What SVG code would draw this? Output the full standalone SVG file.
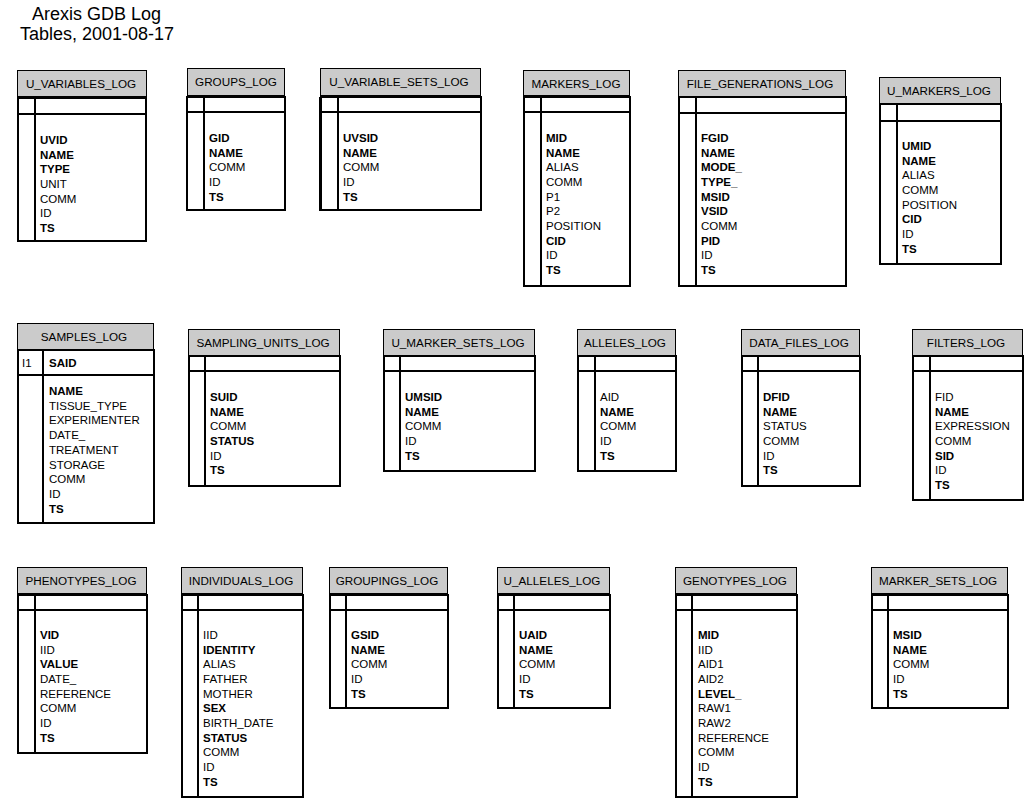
<svg xmlns="http://www.w3.org/2000/svg" width="1027" height="800" viewBox="0 0 1027 800">
<style>
text{font-family:"Liberation Sans",Arial,sans-serif;fill:#000}
.title{font-size:18px}
.hd{fill:#cbcbcb;stroke:#000;stroke-width:1}
.ht{font-size:11.7px;text-anchor:middle}
.bd{fill:#fff;stroke:#000;stroke-width:2}
.ln{stroke:#000;stroke-width:2;fill:none}
.f{font-size:11.5px}
.b{font-size:11.5px;font-weight:bold}
</style>
<rect width="1027" height="800" fill="#fff"/>
<g id="title">
<text class="title" x="32" y="20">Arexis GDB Log</text>
<text class="title" x="20" y="40">Tables, 2001-08-17</text>
</g>

<g id="U_VARIABLES_LOG">
<rect class="hd" x="17.5" y="70.5" width="129" height="26"/>
<text class="ht" x="81" y="88">U_VARIABLES_LOG</text>
<rect class="bd" x="18" y="98" width="128" height="143"/>
<path class="ln" d="M18 114H146M35 98V241"/>
<text class="b" x="40" y="144">UVID</text>
<text class="b" x="40" y="158.6">NAME</text>
<text class="b" x="40" y="173.3">TYPE</text>
<text class="f" x="40" y="188">UNIT</text>
<text class="f" x="40" y="202.6">COMM</text>
<text class="f" x="40" y="217.2">ID</text>
<text class="b" x="40" y="231.9">TS</text>
</g>

<g id="GROUPS_LOG">
<rect class="hd" x="187.5" y="68.5" width="97" height="27"/>
<text class="ht" x="236" y="86">GROUPS_LOG</text>
<rect class="bd" x="187" y="97" width="98" height="113"/>
<path class="ln" d="M187 112H285M204 97V210"/>
<text class="b" x="209" y="142">GID</text>
<text class="b" x="209" y="156.6">NAME</text>
<text class="f" x="209" y="171.3">COMM</text>
<text class="f" x="209" y="186">ID</text>
<text class="b" x="209" y="200.6">TS</text>
</g>

<g id="U_VARIABLE_SETS_LOG">
<rect class="hd" x="320.5" y="68.5" width="160" height="27"/>
<text class="ht" x="399" y="86">U_VARIABLE_SETS_LOG</text>
<rect class="bd" x="321" y="97" width="160" height="113"/>
<path class="ln" d="M321 112H481M338 97V210" />
<path d="M320.5 97V211" stroke="#000" stroke-width="3"/>
<text class="b" x="343" y="142">UVSID</text>
<text class="b" x="343" y="156.6">NAME</text>
<text class="f" x="343" y="171.3">COMM</text>
<text class="f" x="343" y="186">ID</text>
<text class="b" x="343" y="200.6">TS</text>
</g>

<g id="MARKERS_LOG">
<rect class="hd" x="523.5" y="70.5" width="106" height="25"/>
<text class="ht" x="576" y="88">MARKERS_LOG</text>
<rect class="bd" x="524" y="97" width="106" height="189"/>
<path class="ln" d="M524 112H630M541 97V286"/>
<text class="b" x="546" y="142">MID</text>
<text class="b" x="546" y="156.7">NAME</text>
<text class="f" x="546" y="171.3">ALIAS</text>
<text class="f" x="546" y="186">COMM</text>
<text class="f" x="546" y="200.6">P1</text>
<text class="f" x="546" y="215.3">P2</text>
<text class="f" x="546" y="230">POSITION</text>
<text class="b" x="546" y="244.6">CID</text>
<text class="f" x="546" y="259.3">ID</text>
<text class="b" x="546" y="274">TS</text>
</g>

<g id="FILE_GENERATIONS_LOG">
<rect class="hd" x="678.5" y="70.5" width="167" height="26"/>
<text class="ht" x="760" y="88">FILE_GENERATIONS_LOG</text>
<rect class="bd" x="679" y="97" width="167" height="189"/>
<path class="ln" d="M679 113H846M696 97V286"/>
<text class="b" x="701" y="142">FGID</text>
<text class="b" x="701" y="156.7">NAME</text>
<text class="b" x="701" y="171.3">MODE_</text>
<text class="b" x="701" y="186">TYPE_</text>
<text class="b" x="701" y="200.6">MSID</text>
<text class="b" x="701" y="215.3">VSID</text>
<text class="f" x="701" y="230">COMM</text>
<text class="b" x="701" y="244.6">PID</text>
<text class="f" x="701" y="259.3">ID</text>
<text class="b" x="701" y="274">TS</text>
</g>

<g id="U_MARKERS_LOG">
<rect class="hd" x="879.5" y="77.5" width="121" height="26"/>
<text class="ht" x="939" y="95">U_MARKERS_LOG</text>
<rect class="bd" x="880" y="104" width="121" height="160"/>
<path class="ln" d="M880 121H1001M897 104V264"/>
<text class="b" x="902" y="150">UMID</text>
<text class="b" x="902" y="164.7">NAME</text>
<text class="f" x="902" y="179.3">ALIAS</text>
<text class="f" x="902" y="194">COMM</text>
<text class="f" x="902" y="208.6">POSITION</text>
<text class="b" x="902" y="223.3">CID</text>
<text class="f" x="902" y="238">ID</text>
<text class="b" x="902" y="252.6">TS</text>
</g>

<g id="SAMPLES_LOG">
<rect class="hd" x="17.5" y="323.5" width="136" height="26"/>
<text class="ht" x="84" y="341">SAMPLES_LOG</text>
<rect class="bd" x="18" y="350" width="136" height="173"/>
<path class="ln" d="M18 375H154M43 350V523"/>
<text class="f" x="22" y="367">I1</text>
<text class="b" x="49" y="367">SAID</text>
<text class="b" x="49" y="395">NAME</text>
<text class="f" x="49" y="409.7">TISSUE_TYPE</text>
<text class="f" x="49" y="424.4">EXPERIMENTER</text>
<text class="f" x="49" y="439.1">DATE_</text>
<text class="f" x="49" y="453.8">TREATMENT</text>
<text class="f" x="49" y="468.5">STORAGE</text>
<text class="f" x="49" y="483.2">COMM</text>
<text class="f" x="49" y="497.9">ID</text>
<text class="b" x="49" y="512.6">TS</text>
</g>

<g id="SAMPLING_UNITS_LOG">
<rect class="hd" x="188.5" y="329.5" width="151" height="26"/>
<text class="ht" x="263" y="347">SAMPLING_UNITS_LOG</text>
<rect class="bd" x="189" y="356" width="151" height="130"/>
<path class="ln" d="M189 371H340M205 356V486"/>
<text class="b" x="210" y="401">SUID</text>
<text class="b" x="210" y="415.7">NAME</text>
<text class="f" x="210" y="430.3">COMM</text>
<text class="b" x="210" y="445">STATUS</text>
<text class="f" x="210" y="459.6">ID</text>
<text class="b" x="210" y="474.3">TS</text>
</g>

<g id="U_MARKER_SETS_LOG">
<rect class="hd" x="383.5" y="329.5" width="151" height="26"/>
<text class="ht" x="458" y="347">U_MARKER_SETS_LOG</text>
<rect class="bd" x="384" y="356" width="151" height="115"/>
<path class="ln" d="M384 371H535M400 356V471"/>
<text class="b" x="405" y="401">UMSID</text>
<text class="b" x="405" y="415.7">NAME</text>
<text class="f" x="405" y="430.3">COMM</text>
<text class="f" x="405" y="445">ID</text>
<text class="b" x="405" y="459.6">TS</text>
</g>

<g id="ALLELES_LOG">
<rect class="hd" x="577.5" y="329.5" width="98" height="26"/>
<text class="ht" x="625" y="347">ALLELES_LOG</text>
<rect class="bd" x="578" y="356" width="98" height="115"/>
<path class="ln" d="M578 371H676M595 356V471"/>
<text class="f" x="600" y="401">AID</text>
<text class="b" x="600" y="415.7">NAME</text>
<text class="f" x="600" y="430.3">COMM</text>
<text class="f" x="600" y="445">ID</text>
<text class="b" x="600" y="459.6">TS</text>
</g>

<g id="DATA_FILES_LOG">
<rect class="hd" x="741.5" y="329.5" width="118" height="26"/>
<text class="ht" x="799" y="347">DATA_FILES_LOG</text>
<rect class="bd" x="742" y="356" width="118" height="130"/>
<path class="ln" d="M742 371H860M758 356V486"/>
<text class="b" x="763" y="401">DFID</text>
<text class="b" x="763" y="415.7">NAME</text>
<text class="f" x="763" y="430.3">STATUS</text>
<text class="f" x="763" y="445">COMM</text>
<text class="f" x="763" y="459.6">ID</text>
<text class="b" x="763" y="474.3">TS</text>
</g>

<g id="FILTERS_LOG">
<rect class="hd" x="912.5" y="329.5" width="110" height="26"/>
<text class="ht" x="966" y="347">FILTERS_LOG</text>
<rect class="bd" x="913" y="356" width="110" height="144"/>
<path class="ln" d="M913 371H1023M930 356V500"/>
<text class="f" x="935" y="401">FID</text>
<text class="b" x="935" y="415.7">NAME</text>
<text class="f" x="935" y="430.3">EXPRESSION</text>
<text class="f" x="935" y="445">COMM</text>
<text class="b" x="935" y="459.6">SID</text>
<text class="f" x="935" y="474.3">ID</text>
<text class="b" x="935" y="489">TS</text>
</g>

<g id="PHENOTYPES_LOG">
<rect class="hd" x="17.5" y="567.5" width="129" height="26"/>
<text class="ht" x="81" y="585">PHENOTYPES_LOG</text>
<rect class="bd" x="18" y="595" width="129" height="158"/>
<path class="ln" d="M18 610H147M35 595V753"/>
<text class="b" x="40" y="639">VID</text>
<text class="f" x="40" y="653.7">IID</text>
<text class="b" x="40" y="668.3">VALUE</text>
<text class="f" x="40" y="683">DATE_</text>
<text class="f" x="40" y="697.6">REFERENCE</text>
<text class="f" x="40" y="712.3">COMM</text>
<text class="f" x="40" y="727">ID</text>
<text class="b" x="40" y="741.6">TS</text>
</g>

<g id="INDIVIDUALS_LOG">
<rect class="hd" x="181.5" y="567.5" width="121" height="26"/>
<text class="ht" x="241" y="585">INDIVIDUALS_LOG</text>
<rect class="bd" x="182" y="595" width="121" height="202"/>
<path class="ln" d="M182 610H303M198 595V797"/>
<text class="f" x="203" y="639">IID</text>
<text class="b" x="203" y="653.7">IDENTITY</text>
<text class="f" x="203" y="668.3">ALIAS</text>
<text class="f" x="203" y="683">FATHER</text>
<text class="f" x="203" y="697.6">MOTHER</text>
<text class="b" x="203" y="712.3">SEX</text>
<text class="f" x="203" y="727">BIRTH_DATE</text>
<text class="b" x="203" y="741.6">STATUS</text>
<text class="f" x="203" y="756.3">COMM</text>
<text class="f" x="203" y="771">ID</text>
<text class="b" x="203" y="785.6">TS</text>
</g>

<g id="GROUPINGS_LOG">
<rect class="hd" x="329.5" y="567.5" width="118" height="26"/>
<text class="ht" x="387" y="585">GROUPINGS_LOG</text>
<rect class="bd" x="330" y="595" width="118" height="113"/>
<path class="ln" d="M330 610H448M346 595V708"/>
<text class="b" x="351" y="639">GSID</text>
<text class="b" x="351" y="653.7">NAME</text>
<text class="f" x="351" y="668.3">COMM</text>
<text class="f" x="351" y="683">ID</text>
<text class="b" x="351" y="697.6">TS</text>
</g>

<g id="U_ALLELES_LOG">
<rect class="hd" x="497.5" y="567.5" width="112" height="26"/>
<text class="ht" x="552" y="585">U_ALLELES_LOG</text>
<rect class="bd" x="498" y="595" width="112" height="113"/>
<path class="ln" d="M498 610H610M514 595V708"/>
<text class="b" x="519" y="639">UAID</text>
<text class="b" x="519" y="653.7">NAME</text>
<text class="f" x="519" y="668.3">COMM</text>
<text class="f" x="519" y="683">ID</text>
<text class="b" x="519" y="697.6">TS</text>
</g>

<g id="GENOTYPES_LOG">
<rect class="hd" x="675.5" y="567.5" width="121" height="26"/>
<text class="ht" x="735" y="585">GENOTYPES_LOG</text>
<rect class="bd" x="676" y="595" width="121" height="202"/>
<path class="ln" d="M676 610H797M692 595V797"/>
<text class="b" x="698" y="639">MID</text>
<text class="f" x="698" y="653.7">IID</text>
<text class="f" x="698" y="668.3">AID1</text>
<text class="f" x="698" y="683">AID2</text>
<text class="b" x="698" y="697.6">LEVEL_</text>
<text class="f" x="698" y="712.3">RAW1</text>
<text class="f" x="698" y="727">RAW2</text>
<text class="f" x="698" y="741.6">REFERENCE</text>
<text class="f" x="698" y="756.3">COMM</text>
<text class="f" x="698" y="771">ID</text>
<text class="b" x="698" y="785.6">TS</text>
</g>

<g id="MARKER_SETS_LOG">
<rect class="hd" x="871.5" y="567.5" width="136" height="26"/>
<text class="ht" x="938" y="585">MARKER_SETS_LOG</text>
<rect class="bd" x="872" y="595" width="136" height="113"/>
<path class="ln" d="M872 610H1008M888 595V708"/>
<text class="b" x="893" y="639">MSID</text>
<text class="b" x="893" y="653.7">NAME</text>
<text class="f" x="893" y="668.3">COMM</text>
<text class="f" x="893" y="683">ID</text>
<text class="b" x="893" y="697.6">TS</text>
</g>

<g id="connectors"></g>
</svg>
